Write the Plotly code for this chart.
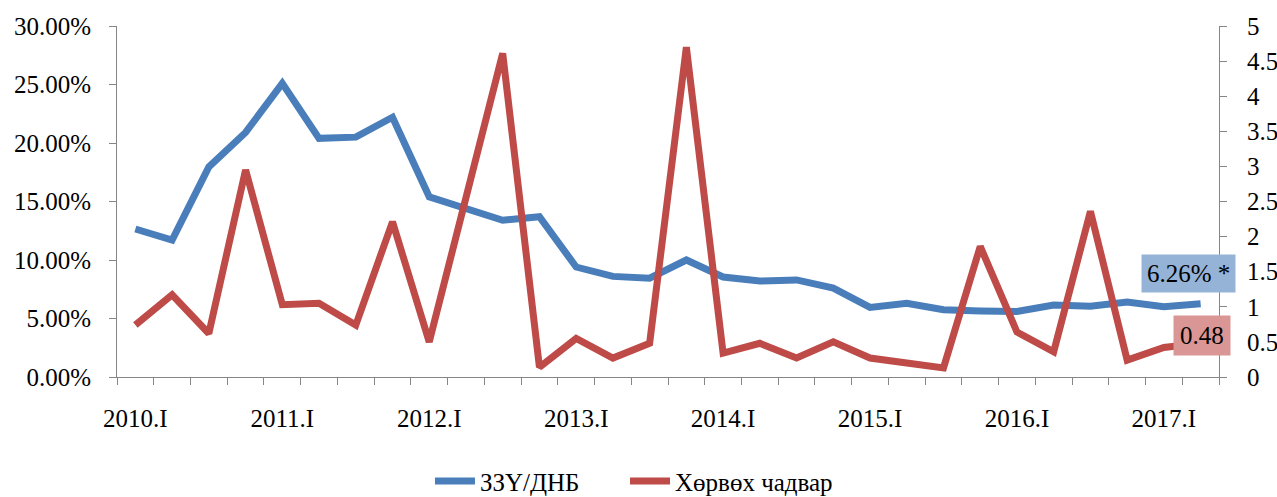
import plotly.graph_objects as go

quarters = []
for yr in range(2010, 2018):
    for q in ["I", "II", "III", "IV"]:
        quarters.append(f"{yr}.{q}")
quarters = quarters[:30]

tick_labels = ["2010.I", "2011.I", "2012.I", "2013.I", "2014.I", "2015.I", "2016.I", "2017.I"]

zzu_dnb = [12.65, 11.7, 17.95, 20.9, 25.1, 20.4, 20.5, 22.2, 15.4, 14.4,
           13.4, 13.7, 9.4, 8.6, 8.45, 10.0, 8.55, 8.2, 8.3, 7.6,
           5.95, 6.3, 5.75, 5.65, 5.6, 6.15, 6.05, 6.4, 6.0, 6.26]
liquidity = [0.74, 1.17, 0.62, 2.95, 1.03, 1.05, 0.74, 2.21, 0.5, 2.55,
             4.61, 0.14, 0.55, 0.27, 0.48, 4.70, 0.34, 0.48, 0.27, 0.5,
             0.27, 0.2, 0.13, 1.86, 0.64, 0.36, 2.36, 0.24, 0.42, 0.48]

series_names = ["ЗЗҮ/ДНБ", "Хөрвөх чадвар"]
blue = "#4A7EBB"
red = "#BE4B48"
axis_grey = "#868686"
FONT = "Liberation Serif, Times New Roman, serif"
FS = 25

x_idx = list(range(len(quarters)))
tick_pos = [quarters.index(t) for t in tick_labels]

fig = go.Figure()
fig.add_trace(go.Scatter(x=x_idx, y=[v / 100 for v in zzu_dnb], name=series_names[0],
                         mode="lines", line=dict(color=blue, width=7), yaxis="y",
                         legend="legend"))
fig.add_trace(go.Scatter(x=x_idx, y=liquidity, name=series_names[1],
                         mode="lines", line=dict(color=red, width=7), yaxis="y2",
                         legend="legend2"))

fig.add_annotation(x=x_idx[-1], y=zzu_dnb[-1] / 100, xref="x", yref="y",
                   text=f"{zzu_dnb[-1]:.2f}% *", showarrow=False,
                   xshift=-12, yshift=30, bgcolor="#95B3D7",
                   font=dict(family=FONT, size=FS, color="black"), borderpad=5)
fig.add_annotation(x=x_idx[-1], y=liquidity[-1], xref="x", yref="y2",
                   text=f"{liquidity[-1]:.2f}", showarrow=False,
                   xshift=1, yshift=8, bgcolor="#D99694",
                   font=dict(family=FONT, size=FS, color="black"), borderpad=6)

legend_common = dict(orientation="h", xanchor="left", y=-0.297, yanchor="middle",
                     font=dict(family=FONT, size=FS), itemwidth=40,
                     bgcolor="rgba(0,0,0,0)")

fig.update_layout(
    width=1277, height=497,
    margin=dict(l=117, r=58, t=26, b=120, autoexpand=False),
    paper_bgcolor="white", plot_bgcolor="white",
    font=dict(family=FONT, size=FS, color="black"),
    showlegend=True,
    legend=dict(x=0.284, **legend_common),
    legend2=dict(x=0.461, **legend_common),
    xaxis=dict(range=[-0.5, len(quarters) - 0.5], tickmode="array",
               tickvals=tick_pos, ticktext=tick_labels, ticks="", showgrid=False,
               zeroline=False, showline=True, linecolor=axis_grey, linewidth=1,
               ticklabelstandoff=19, automargin=False,
               minor=dict(ticks="outside", ticklen=7, tickcolor=axis_grey,
                          tick0=-0.5, dtick=1, showgrid=False)),
    yaxis=dict(range=[0, 0.30], dtick=0.05, tickformat=".2%", showgrid=False,
               zeroline=False, showline=True, linecolor=axis_grey, linewidth=1,
               ticks="outside", ticklen=7, tickcolor=axis_grey, ticklabelstandoff=13,
               automargin=False),
    yaxis2=dict(range=[0, 5], dtick=0.5, overlaying="y", side="right", showgrid=False,
                zeroline=False, showline=True, linecolor=axis_grey, linewidth=1,
                ticks="outside", ticklen=7, tickcolor=axis_grey, ticklabelstandoff=15,
                automargin=False),
)

fig.write_html("out.html", config={"displayModeBar": False},
               post_script="document.body.style.margin='0';")
